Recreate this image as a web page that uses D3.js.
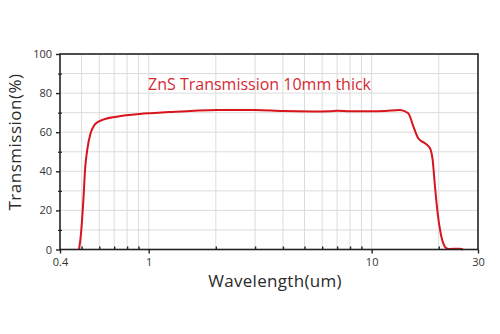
<!DOCTYPE html>
<html><head><meta charset="utf-8">
<script src="https://cdn.jsdelivr.net/npm/d3@7"></script>
<style>body{margin:0;background:#fff;}svg{display:block;}</style>
</head><body>
<svg id="c" width="500" height="334"></svg>
<script>
const wavelength = [0.487, 0.497, 0.509, 0.519, 0.530, 0.549, 0.566, 0.584, 0.62, 0.718, 0.914, 1.02, 1.245, 1.6, 2.02, 3.0, 4.0, 5.4, 6.5, 7.0, 8.0, 9.83, 11.5, 13.4, 14.6, 15.4, 16.19, 17.35, 18.27, 18.78, 19.24, 19.78, 20.4, 21.33, 22.08, 24.9, 25.7];
const transmission = [0, 8.3, 25, 42, 51, 59.6, 63, 64.8, 66.3, 67.9, 69.3, 69.7, 70.3, 71, 71.4, 71.4, 70.8, 70.6, 70.7, 71, 70.7, 70.7, 70.9, 71.4, 69.7, 62.8, 56.9, 54.3, 51.8, 45.8, 32.1, 18.5, 8.3, 1.4, 0.3, 0.4, 0];
const xMajorTicks = [0.4, 1, 10, 30];
const xTickLabels = ["0.4", "1", "10", "30"];
const xMinorTicks = [0.5, 0.6, 0.7, 0.8, 0.9, 2, 3, 4, 5, 6, 7, 8, 9, 20];
const yMajorTicks = [0, 20, 40, 60, 80, 100];
const yMinorTicks = [10, 30, 50, 70, 90];
const title = "ZnS Transmission 10mm thick";
const xLabel = "Wavelength(um)";
const yLabel = "Transmission(%)";

const L = 60, R = 478, T = 54, B = 249.5;
const svg = d3.select("#c");
const x = d3.scaleLog().domain([0.4, 30]).range([L, R]);
const y = d3.scaleLinear().domain([0, 100]).range([B, T]);
const font = "'Open Sans', 'Noto Sans', sans-serif";

// grid
const g = svg.append("g");
g.selectAll("line.vg").data(xMinorTicks.concat([1, 10])).join("line")
  .attr("x1", d => x(d)).attr("x2", d => x(d)).attr("y1", T).attr("y2", B)
  .attr("stroke", "#dcdcdc").attr("stroke-width", 1);
g.selectAll("line.hg").data(yMajorTicks.concat(yMinorTicks).filter(d => d > 0 && d < 100)).join("line")
  .attr("x1", L).attr("x2", R).attr("y1", d => y(d)).attr("y2", d => y(d))
  .attr("stroke", "#dcdcdc").attr("stroke-width", 1);

// curve
const pts = wavelength.map((w, i) => [w, transmission[i]]);
svg.append("path").datum(pts)
  .attr("d", d3.line().x(d => x(d[0])).y(d => y(d[1])).curve(d3.curveMonotoneX))
  .attr("fill", "none").attr("stroke", "#d8141c").attr("stroke-width", 2);

// frame
svg.append("rect").attr("x", L).attr("y", T).attr("width", R - L).attr("height", B - T)
  .attr("fill", "none").attr("stroke", "#222").attr("stroke-width", 1.6);

// x axis
const xa = svg.append("g").attr("transform", `translate(0,${B})`)
  .call(d3.axisBottom(x).tickValues(xMajorTicks).tickFormat((d, i) => xTickLabels[i]).tickSize(4).tickPadding(5));
xa.select(".domain").remove();
xa.selectAll("line").attr("stroke", "#222").attr("stroke-width", 1.4);
xa.selectAll("text").attr("font-family", font).attr("font-size", 11).attr("fill", "#333");
svg.append("g").attr("transform", `translate(0,${B})`)
  .call(d3.axisTop(x).tickValues(xMinorTicks).tickFormat("").tickSize(3))
  .call(s => s.select(".domain").remove())
  .selectAll("line").attr("stroke", "#222").attr("stroke-width", 1.4);

// y axis
const ya = svg.append("g").attr("transform", `translate(${L},0)`)
  .call(d3.axisLeft(y).tickValues(yMajorTicks).tickSize(4).tickPadding(4));
ya.select(".domain").remove();
ya.selectAll("line").attr("stroke", "#222").attr("stroke-width", 1.4);
ya.selectAll("text").attr("font-family", font).attr("font-size", 11).attr("fill", "#333");
svg.append("g").attr("transform", `translate(${L + 2},0)`)
  .call(d3.axisLeft(y).tickValues(yMinorTicks).tickFormat("").tickSize(4))
  .call(s => s.select(".domain").remove())
  .selectAll("line").attr("stroke", "#222").attr("stroke-width", 1.2);

// labels
svg.append("text").attr("x", 259.5).attr("y", 90).attr("text-anchor", "middle")
  .attr("font-family", font).attr("font-size", 16).attr("fill", "#d42a35").text(title);
svg.append("text").attr("x", 275).attr("y", 287).attr("text-anchor", "middle")
  .attr("font-family", font).attr("font-size", 17).attr("fill", "#2a2a2a").attr("letter-spacing", 0.3).text(xLabel);
svg.append("text").attr("transform", "translate(21,142) rotate(-90)").attr("text-anchor", "middle")
  .attr("font-family", font).attr("font-size", 17).attr("fill", "#2a2a2a").attr("letter-spacing", 0.5).text(yLabel);
</script>
</body></html>
